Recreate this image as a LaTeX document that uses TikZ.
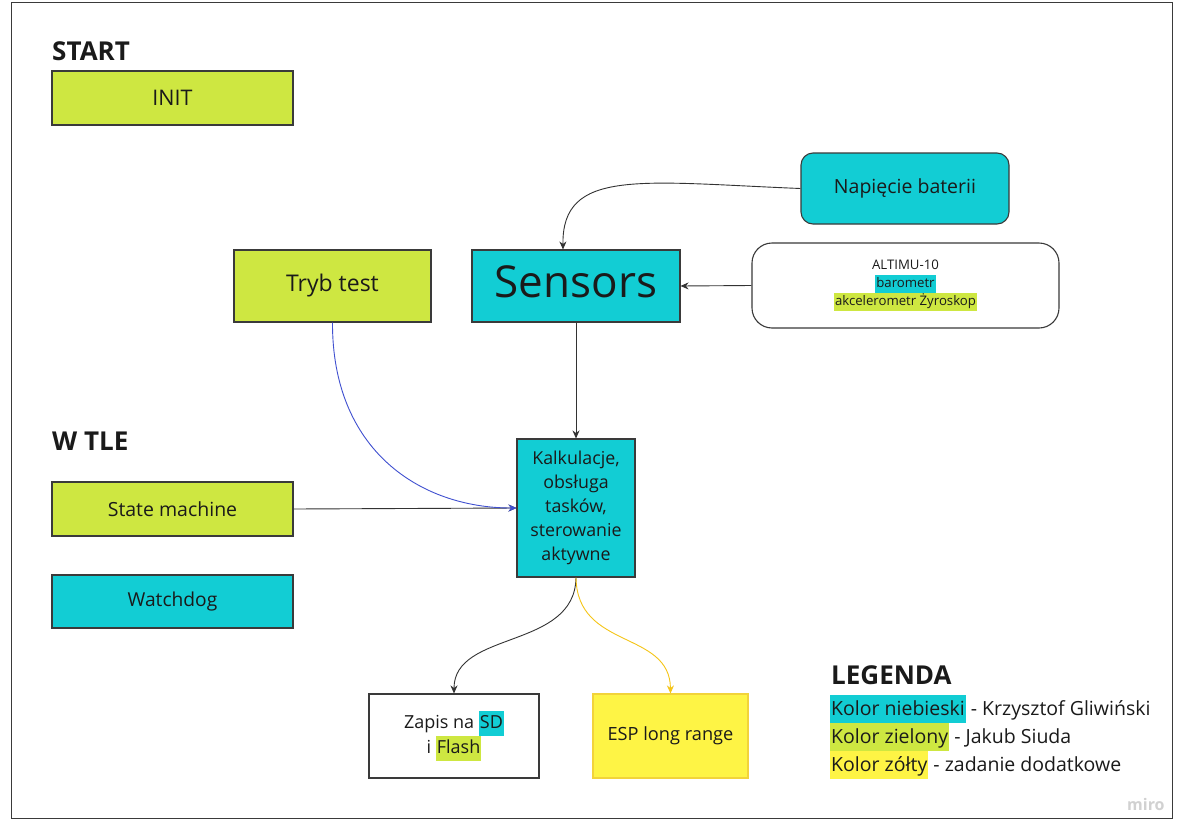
\documentclass[tikz,border=0pt]{standalone}
\usepackage{fontspec}
\setmainfont{Open Sans}
\usetikzlibrary{arrows.meta}
\definecolor{lime}{HTML}{CEE741}
\definecolor{cyanb}{HTML}{12CDD4}
\definecolor{yel}{HTML}{FEF445}
\definecolor{yelline}{HTML}{F5C518}
\definecolor{yeledge}{HTML}{F2D33A}
\definecolor{blueline}{HTML}{4050D0}
\definecolor{edge}{HTML}{3A3A3A}
\definecolor{ink}{HTML}{1A1A1A}
\definecolor{arr}{HTML}{333333}
\newcommand{\hlite}[2]{{\setlength{\fboxsep}{0pt}\colorbox{#1}{\strut\kern1pt #2\kern1pt}}}
\newcommand{\fsz}[2]{\fontsize{#1}{#2}\selectfont}
\tikzset{
  box/.style={draw=edge, line width=1.1pt, inner sep=0pt, align=center, text=ink},
  conn/.style={draw=arr, line width=0.9pt, -{Stealth[length=8pt,width=7pt]}},
  title/.style={anchor=base west, inner sep=0pt, text=ink, font=\bfseries\fsz{26}{30}},
}
\begin{document}
\begin{tikzpicture}[x=1pt,y=-1pt]
\useasboundingbox (0,0) rectangle (1192,838);
\fill[white] (0,0) rectangle (1192,838);
\draw[draw=edge, line width=1pt] (11,2) rectangle (1172,818);

% titles
\node[title] (start) at (52,60) {START};
\node[title] (wtle) at (52,450) {W TLE};
\node[title] (legenda) at (831,684) {LEGENDA};

% boxes
\node[box, fill=lime, minimum width=241pt, minimum height=54pt, font=\fsz{21.5}{26}] (init) at (172.5,98) {INIT};
\node[box, fill=lime, minimum width=197pt, minimum height=72pt, font=\fsz{23}{28}] (tryb) at (332.5,286) {Tryb test};
\node[box, fill=cyanb, minimum width=208pt, minimum height=72pt, text height=32pt, text depth=9pt, font=\fsz{44}{50}] (sensors) at (576,286) {Sensors};
\node[box, fill=cyanb, rounded corners=12pt, minimum width=208pt, minimum height=71pt, font=\fsz{19.5}{24}] (bat) at (905,188.5) {Napięcie baterii};
\node[box, fill=white, rounded corners=20pt, minimum width=307pt, minimum height=85pt, font=\fsz{13.2}{18}] (alt) at (905.5,285.5) {ALTIMU-10\\\hlite{cyanb}{barometr}\\\hlite{lime}{akcelerometr Żyroskop}};
\node[box, fill=lime, minimum width=241pt, minimum height=54pt, font=\fsz{19.5}{24}] (state) at (172.5,509) {State machine};
\node[box, fill=cyanb, minimum width=241pt, minimum height=53pt, font=\fsz{19.2}{24}] (watch) at (172.5,601.5) {Watchdog};
\node[box, fill=cyanb, minimum width=118pt, minimum height=138pt, font=\fsz{17.8}{24}] (kalk) at (576,508) {Kalkulacje,\\obsługa\\tasków,\\sterowanie\\aktywne};
\node[box, fill=white, minimum width=170pt, minimum height=84pt, font=\fsz{18}{25}] (zapis) at (454,736) {Zapis na \hlite{cyanb}{SD}\\i \hlite{lime}{Flash}};
\node[box, draw=yeledge, fill=yel, minimum width=155pt, minimum height=84pt, font=\fsz{18.2}{24}] (esp) at (670.5,736) {ESP long range};

% legend
\node[anchor=base west, inner sep=0pt, text=ink, font=\fsz{19.5}{28}] (leg1) at (830,715) {\hlite{cyanb}{Kolor niebieski} - Krzysztof Gliwiński};
\node[anchor=base west, inner sep=0pt, text=ink, font=\fsz{19.5}{28}] (leg2) at (830,743) {\hlite{lime}{Kolor zielony} - Jakub Siuda};
\node[anchor=base west, inner sep=0pt, text=ink, font=\fsz{19.5}{28}] (leg3) at (830,771) {\hlite{yel}{Kolor zółty} - zadanie dodatkowe};

% miro mark
\node[anchor=base west, inner sep=0pt, text=black!18, font=\bfseries\fsz{16}{18}] (miro) at (1127,810) {miro};

% connectors
\draw[conn] (bat.west) .. controls (640,182) and (562,168) .. ([xshift=-13pt]sensors.north);
\draw[conn] (alt.west) -- (sensors.east);
\draw[conn] (sensors.south) -- (kalk.north);
\draw[conn] (state.east) -- (kalk.west);
\draw[conn, draw=blueline] (tryb.south) .. controls (332,450) and (420,508) .. (kalk.west);
\draw[conn] (kalk.south) .. controls (575,650) and (454,630) .. (zapis.north);
\draw[conn, draw=yelline] (kalk.south) .. controls (577,650) and (670,630) .. (esp.north);
\end{tikzpicture}
\end{document}
